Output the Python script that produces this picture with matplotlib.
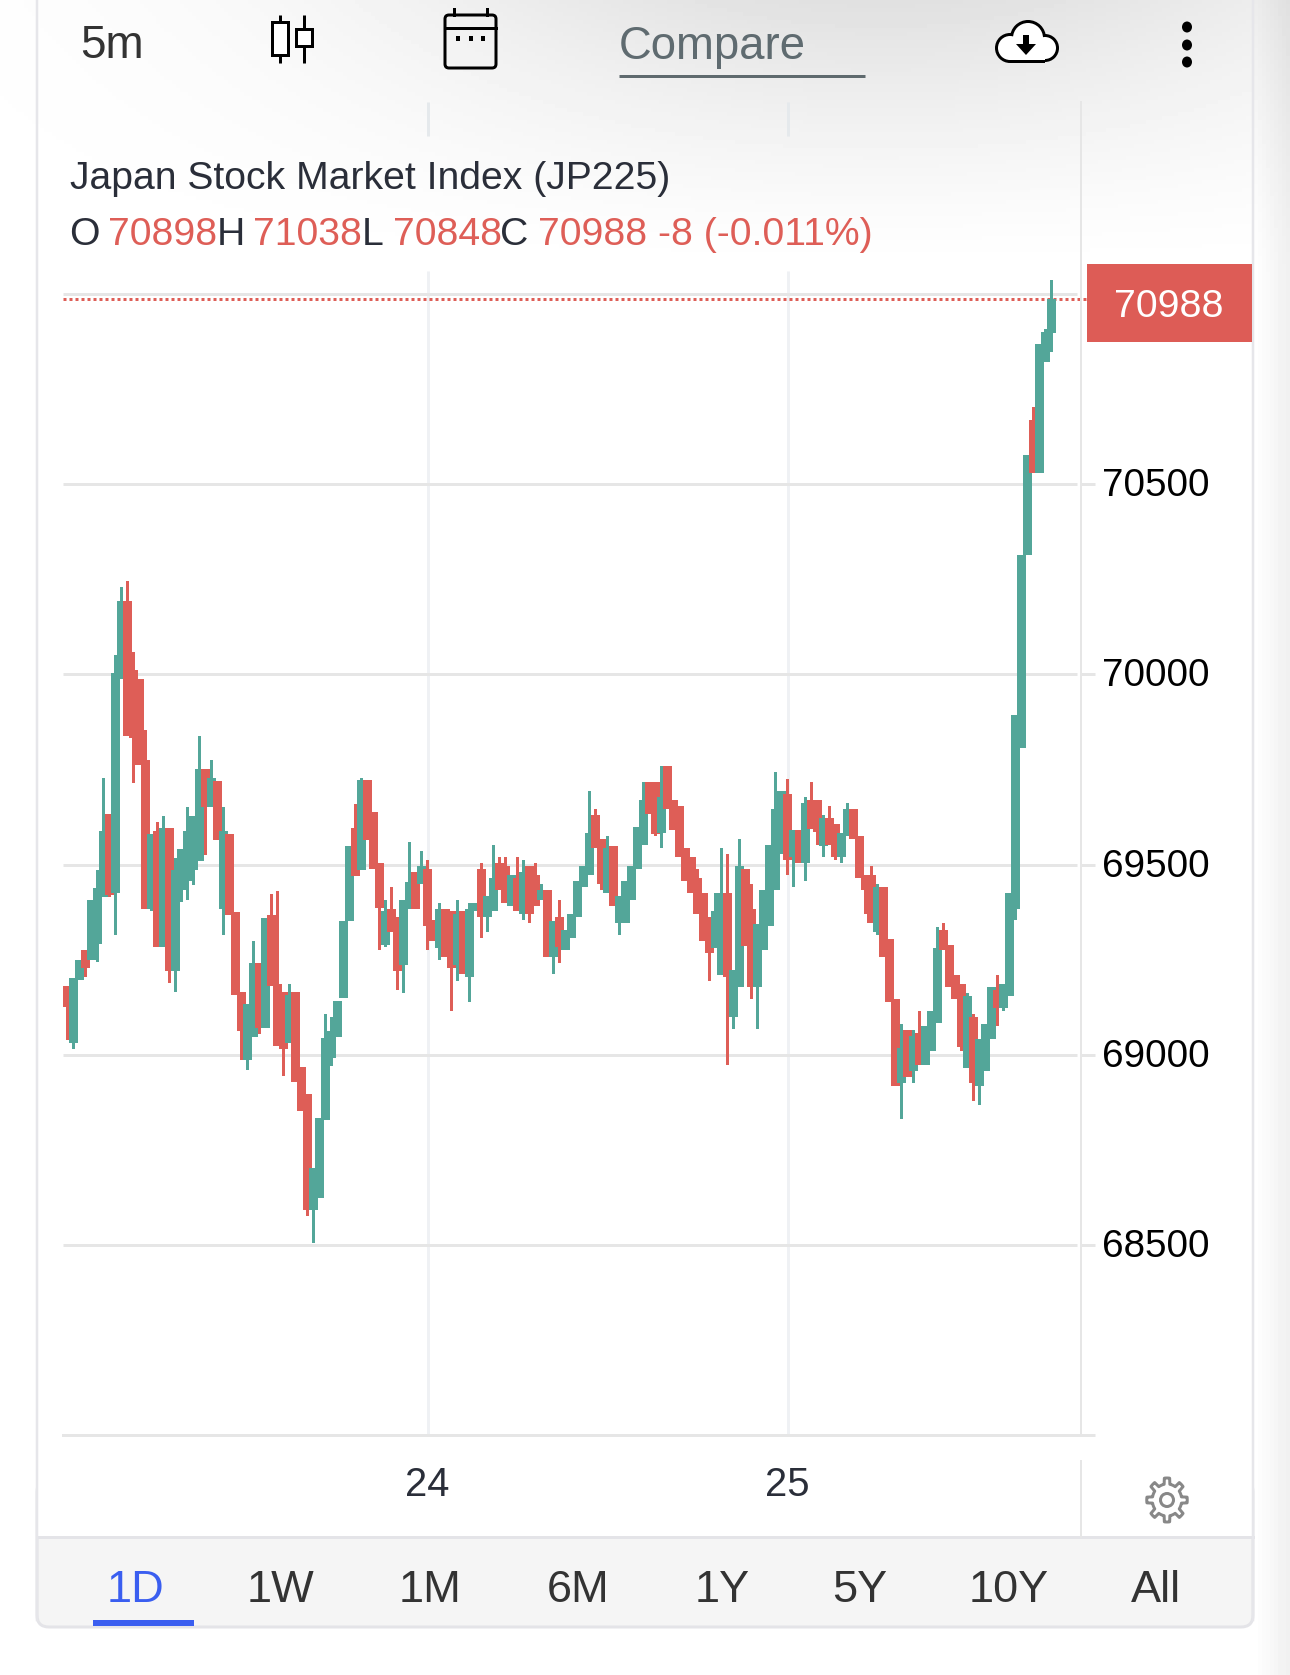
import matplotlib

matplotlib.use("Agg")
import matplotlib.pyplot as plt
import numpy as np
from matplotlib.patches import Circle, Ellipse, FancyBboxPatch, Polygon, Rectangle
from matplotlib.transforms import ScaledTranslation

plt.rcParams["font.family"] = ["Liberation Sans", "DejaVu Sans"]

W, H = 1290, 1675

opens = [
    69180, 69032, 69196, 69274, 69250, 69290, 69415, 69634, 69424, 69988,
    70192, 70012, 69988, 69776, 69384, 69588, 69283, 69596, 69220, 69432,
    69456, 69486, 69509, 69752, 69651, 69720, 69384, 69580, 69376, 69164,
    68985, 69047, 69242, 69070, 69368, 69187, 69164, 69032, 69164, 68967,
    68897, 68591, 68623, 68827, 68991, 69047, 69149, 69352, 69596, 69486,
    69721, 69638, 69504, 69289, 69384, 69361, 69235, 69384, 69480, 69448,
    69488, 69353, 69281, 69384, 69377, 69235, 69377, 69203, 69377, 69488,
    69361, 69377, 69504, 69496, 69392, 69464, 69369, 69496, 69472, 69408,
    69432, 69258, 69361, 69274, 69306, 69361, 69440, 69473, 69631, 69567,
    69424, 69549, 69345, 69345, 69408, 69488, 69551, 69718, 69718, 69583,
    69758, 69670, 69654, 69543, 69519, 69464, 69424, 69361, 69281, 69210,
    69424, 69100, 69179, 69488, 69384, 69179, 69274, 69338, 69433, 69527,
    69686, 69519, 69591, 69504, 69670, 69670, 69549, 69623, 69607, 69520,
    69576, 69646, 69575, 69464, 69472, 69322, 69441, 69305, 69147, 68925,
    69066, 68956, 69058, 68972, 69011, 69084, 69329, 69289, 69210, 69186,
    68965, 69098, 68917, 68956, 69042, 69170, 69123, 69153, 69384, 69806,
    70313, 70670, 70529, 70822, 70898,
]
highs = [
    69180, 69202, 69250, 69274, 69407, 69486, 69728, 69634, 70050, 70231,
    70246, 70058, 69988, 69854, 69580, 69611, 69627, 69596, 69516, 69541,
    69651, 69627, 69839, 69752, 69776, 69720, 69651, 69580, 69376, 69164,
    69132, 69298, 69242, 69360, 69423, 69431, 69164, 69187, 69164, 68967,
    68897, 68702, 68834, 69108, 69100, 69140, 69351, 69548, 69658, 69728,
    69721, 69638, 69504, 69408, 69440, 69361, 69408, 69559, 69480, 69535,
    69511, 69353, 69400, 69384, 69377, 69408, 69377, 69400, 69400, 69504,
    69416, 69551, 69519, 69519, 69472, 69519, 69511, 69496, 69504, 69448,
    69432, 69352, 69408, 69329, 69369, 69456, 69496, 69694, 69646, 69567,
    69575, 69549, 69416, 69456, 69496, 69599, 69718, 69718, 69718, 69758,
    69758, 69670, 69654, 69543, 69519, 69488, 69424, 69361, 69424, 69543,
    69527, 69223, 69567, 69488, 69448, 69344, 69432, 69551, 69742, 69694,
    69726, 69591, 69591, 69678, 69718, 69670, 69631, 69654, 69607, 69583,
    69662, 69646, 69575, 69472, 69496, 69448, 69441, 69305, 69147, 69082,
    69066, 69066, 69114, 69075, 69114, 69337, 69345, 69289, 69210, 69186,
    69162, 69106, 69042, 69082, 69178, 69210, 69186, 69425, 69892, 70313,
    70576, 70702, 70868, 70908, 71038,
]
lows = [
    69039, 69015, 69196, 69205, 69250, 69243, 69415, 69415, 69314, 69988,
    69839, 69714, 69761, 69384, 69377, 69283, 69283, 69188, 69165, 69401,
    69408, 69446, 69509, 69526, 69651, 69564, 69314, 69368, 69157, 68985,
    68960, 69047, 69055, 69070, 69181, 69024, 68945, 69032, 68929, 68851,
    68576, 68506, 68623, 68827, 68969, 69047, 69149, 69352, 69471, 69486,
    69564, 69488, 69274, 69282, 69322, 69171, 69163, 69384, 69384, 69448,
    69274, 69298, 69250, 69258, 69115, 69195, 69211, 69139, 69377, 69306,
    69322, 69377, 69432, 69400, 69392, 69377, 69353, 69345, 69392, 69408,
    69258, 69211, 69242, 69274, 69306, 69361, 69440, 69473, 69543, 69432,
    69424, 69392, 69314, 69345, 69408, 69488, 69551, 69633, 69575, 69543,
    69646, 69591, 69519, 69457, 69424, 69369, 69298, 69195, 69281, 69210,
    68972, 69068, 69179, 69285, 69147, 69068, 69274, 69338, 69433, 69527,
    69473, 69441, 69504, 69457, 69593, 69551, 69520, 69551, 69512, 69504,
    69576, 69568, 69464, 69369, 69345, 69314, 69258, 69139, 68917, 68830,
    68941, 68925, 68972, 68972, 69011, 69084, 69274, 69179, 69147, 69011,
    68965, 68877, 68869, 68956, 69042, 69075, 69115, 69153, 69353, 69806,
    70313, 70529, 70529, 70822, 70848,
]
closes = [
    69125, 69202, 69250, 69228, 69407, 69438, 69588, 69421, 70004, 70192,
    69839, 69832, 69761, 69384, 69580, 69283, 69596, 69220, 69486, 69541,
    69588, 69627, 69752, 69651, 69728, 69564, 69588, 69368, 69157, 69063,
    69132, 69242, 69070, 69360, 69181, 69024, 69015, 69156, 68929, 68851,
    68591, 68702, 68834, 69045, 69062, 69140, 69351, 69548, 69471, 69721,
    69564, 69488, 69386, 69377, 69322, 69219, 69408, 69455, 69384, 69496,
    69338, 69298, 69384, 69258, 69227, 69369, 69211, 69384, 69400, 69361,
    69416, 69464, 69432, 69400, 69472, 69377, 69480, 69369, 69392, 69432,
    69258, 69352, 69282, 69329, 69369, 69456, 69496, 69583, 69543, 69448,
    69543, 69392, 69416, 69456, 69496, 69599, 69670, 69633, 69580, 69678,
    69646, 69591, 69519, 69457, 69424, 69369, 69298, 69267, 69377, 69424,
    69204, 69223, 69496, 69285, 69179, 69344, 69432, 69551, 69646, 69694,
    69512, 69591, 69504, 69662, 69593, 69585, 69623, 69551, 69520, 69583,
    69646, 69568, 69464, 69433, 69345, 69441, 69258, 69139, 68917, 69018,
    68941, 69050, 68972, 69075, 69114, 69280, 69274, 69179, 69147, 69020,
    69154, 68925, 69042, 69082, 69178, 69122, 69186, 69425, 69892, 70313,
    70576, 70529, 70868, 70900, 70988,
]
assert len(opens) == len(highs) == len(lows) == len(closes)

price_ticks = [68000, 68500, 69000, 69500, 70000, 70500]
price_labels = ["", "68500", "69000", "69500", "70000", "70500"]
top_grid_price = 71000
day_ticks = [60, 120]
day_labels = ["24", "25"]
last_price = 70988
range_labels = ["1D", "1W", "1M", "6M", "1Y", "5Y", "10Y", "All"]
range_x = [136, 281, 430, 578, 722, 860, 1009, 1156]

GREEN = "#53a699"
RED = "#de5e57"
GRID = "#e6e6e6"
VGRID = "#eff1f4"
DARK = "#2a2e39"
px = 72 / 100  # one pixel in points at dpi 100

fig = plt.figure(figsize=(W / 100, H / 100), dpi=100)

# page furniture lives on a pixel-coordinate axes under the chart
ui = fig.add_axes([0, 0, 1, 1], zorder=0)
ui.set_xlim(0, W)
ui.set_ylim(H, 0)
ui.axis("off")

yy, xx = np.mgrid[0:H:4, 0:W:4]
shade = np.clip(1 - yy / 270, 0, 1) ** 1.3 * np.exp(-(((xx - 880) / 520) ** 2)) * 0.12
shade = shade + np.clip((xx - 1254) / 36, 0, 1) * 0.06
ui.imshow(1 - shade, extent=(0, W, H, 0), cmap="gray", vmin=0, vmax=1, aspect="auto", zorder=0)

# tab bar and card outline
ui.add_patch(FancyBboxPatch((37, 1480), 1216, 147, boxstyle="round,pad=0,rounding_size=12",
                            fc="#f5f5f5", ec="#e4e4e8", lw=3 * px, zorder=1))
ui.add_patch(Rectangle((38, 1400), 1214, 137, fc="white", ec="none", zorder=1.1))
ui.plot([37, 1253], [1537, 1537], color="#e4e4e8", lw=3 * px, zorder=1.2)
ui.plot([37, 37], [0, 1620], color="#e6e6ea", lw=2.5 * px, zorder=1.2)
ui.plot([1253, 1253], [0, 1620], color="#e6e6ea", lw=2.5 * px, zorder=1.2)
ui.plot([1081, 1081], [1461, 1537], color=GRID, lw=2 * px, zorder=1.2)
ui.add_patch(Rectangle((93, 1620), 101, 6, fc="#3a5ef0", ec="none", zorder=2))

for label, x in zip(range_labels, range_x):
    ui.text(x, 1590, label, fontsize=32.5, ha="center", va="center",
            color="#3a5ef0" if label == "1D" else "#333333", zorder=3)

# toolbar
ui.text(80, 46, "5m", fontsize=33, ha="left", va="center", color="#333333")
ui.text(619, 47, "Compare", fontsize=32.8, ha="left", va="center", color="#5f6b70")
ui.plot([619, 865], [76, 76], color="#5f6a6e", lw=3 * px, solid_capstyle="butt")

# candle icon
for x, top, bottom in [(280, 22, 55), (304, 29, 46)]:
    ui.plot([x, x], [15, 63], color="black", lw=3 * px, solid_capstyle="butt")
    ui.add_patch(Rectangle((x - 8, top), 16, bottom - top, fc="white", ec="black", lw=3 * px, zorder=3))

# calendar icon
ui.add_patch(FancyBboxPatch((445, 15), 51, 53, boxstyle="round,pad=0,rounding_size=4", fc="none", ec="black", lw=3 * px))
ui.plot([445, 496], [28, 28], color="black", lw=3 * px)
for x in (454, 487):
    ui.plot([x, x], [9, 15], color="black", lw=3 * px)
for x in (458, 471, 483):
    ui.add_patch(Rectangle((x - 2, 36), 4, 5, fc="black", ec="none"))

# download cloud
lobes = [(1010, 48, 15), (1028, 38, 18), (1045, 48, 14)]
for x, y, r in lobes:
    ui.add_patch(Circle((x, y), r, fc="black", ec="none", zorder=3))
ui.add_patch(Rectangle((1010, 48), 35, 15, fc="black", ec="none", zorder=3))
for x, y, r in lobes:
    ui.add_patch(Circle((x, y), r - 3, fc="white", ec="none", zorder=3.1))
ui.add_patch(Rectangle((1010, 46), 35, 14, fc="white", ec="none", zorder=3.1))
ui.add_patch(Polygon([(1023, 35), (1029, 35), (1029, 44), (1036, 44), (1026, 55), (1016, 44), (1023, 44)],
                     fc="black", ec="none", zorder=3.2))

# menu dots
for y in (27, 45, 62):
    ui.add_patch(Ellipse((1187, y), 10, 11, fc="black", ec="none"))

# gear
angles = np.linspace(0, 2 * np.pi, 97)[:-1] + np.pi / 2
radii = np.where(np.mod(np.arange(96) + 2, 12) < 5, 22, 16)
ui.add_patch(Polygon(np.c_[1167 + radii * np.cos(angles) * 0.92, 1500 + radii * np.sin(angles)],
                     fc="none", ec="#888888", lw=3 * px, joinstyle="round", zorder=3))
ui.add_patch(Circle((1167, 1500), 6.5, fc="none", ec="#888888", lw=3 * px, zorder=3))

# legend text
ui.text(70, 179, "Japan Stock Market Index (JP225)", fontsize=28.2, ha="left", va="center", color=DARK)
for x, text, color in [(69, "O", DARK), (108, "70898", RED), (217, "H", DARK), (253, "71038", RED),
                       (362, "L", DARK), (393, "70848", RED), (500, "C", DARK),
                       (538, "70988 -8 (-0.011%)", RED)]:
    ui.text(x, 235, text, fontsize=28.2, ha="left", va="center", color=color)

# last price box
ui.add_patch(Rectangle((1087, 264), 165, 78, fc="#dd5c56", ec="none", zorder=2))
ui.text(1169, 307, str(last_price), fontsize=28.3, ha="center", va="center", color="white", zorder=3)

# chart: x is the candle index, one candle every 6 pixels
left, right, top, bottom = 63, 1081, 102, 1435
ax = fig.add_axes([left / W, 1 - bottom / H, (right - left) / W, (bottom - top) / H], zorder=1)
ax.patch.set_alpha(0)
ax.set_xlim(-0.75, (right - 67.5) / 6)
ax.set_ylim(68000, 71505)

for side in ("top", "left"):
    ax.spines[side].set_visible(False)
ax.spines["bottom"].set_color(GRID)
ax.spines["bottom"].set_linewidth(3 * px)
ax.spines["right"].set_color(GRID)
ax.spines["right"].set_linewidth(2 * px)

grid_end = (1077 - 67.5) / 6
ax.hlines(price_ticks[1:] + [top_grid_price], -0.75, grid_end, color=GRID, lw=3 * px, zorder=1)
# vertical grid stops behind the legend text
ax.vlines(day_ticks, 68000, 71060, color=VGRID, lw=3 * px, zorder=0.9)
ax.vlines(day_ticks, 71415, 71505, color="#e5e9ec", lw=3 * px, zorder=0.9)
ax.hlines(last_price, -0.75, (1086 - 67.5) / 6, color=RED, lw=3 * px, linestyle=(0, (1, 1)),
          clip_on=False, zorder=2)

for i, (o, h, l, c) in enumerate(zip(opens, highs, lows, closes)):
    color = GREEN if c >= o else RED
    z = 3 + i * 0.01
    ax.bar(i, h - l, bottom=l, width=0.5, color=color, linewidth=0, zorder=z)
    ax.bar(i, abs(c - o), bottom=min(o, c), width=1.5, color=color, linewidth=0, zorder=z)

ax.yaxis.tick_right()
ax.set_yticks(price_ticks)
ax.set_yticklabels(price_labels, fontsize=27.8, color="black")
ax.tick_params(axis="y", length=14 * px, width=3 * px, color=GRID, pad=5)
lift = ScaledTranslation(0, 2 / 100, fig.dpi_scale_trans)
for tick_label in ax.get_yticklabels():
    tick_label.set_transform(tick_label.get_transform() + lift)
ax.set_xticks(day_ticks)
ax.set_xticklabels(day_labels, fontsize=28.8, color=DARK)
ax.tick_params(axis="x", length=0, pad=22)

fig.savefig("out.png", dpi=100)
